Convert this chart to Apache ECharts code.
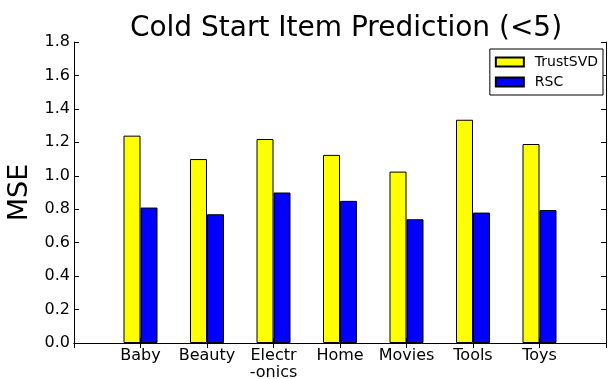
<!DOCTYPE html>
<html>
<head>
<meta charset="utf-8">
<script src="https://cdn.jsdelivr.net/npm/echarts@6/dist/echarts.min.js"></script>
<style>
  html, body { margin: 0; padding: 0; background: #fff; }
  #chart { width: 608px; height: 379px; }
</style>
</head>
<body>
<div id="chart"></div>
<script>
// Categories and MSE values for the cold-start item experiment
const categories = ['Baby', 'Beauty', 'Electr\n-onics', 'Home', 'Movies', 'Tools', 'Toys'];
const trustSVD = [1.24, 1.10, 1.22, 1.125, 1.025, 1.335, 1.19];
const rsc = [0.81, 0.77, 0.90, 0.85, 0.74, 0.78, 0.795];
const yTicks = [0.0, 0.2, 0.4, 0.6, 0.8, 1.0, 1.2, 1.4, 1.6, 1.8];

// Pad the category axis with an empty slot on each side so groups sit on integer positions 1..7 of 0..8
const axisCats = [''].concat(categories, ['']);
const pad = arr => [null].concat(arr, [null]);

const FONT = 'DejaVu Sans';
const axisLine = { show: true, lineStyle: { color: '#000', width: 1 } };
const innerTick = { show: true, inside: true, length: 5, lineStyle: { color: '#000', width: 1 } };

const chart = echarts.init(document.getElementById('chart'), null, { renderer: 'canvas' });
chart.setOption({
  animation: false,
  backgroundColor: '#fff',
  textStyle: { fontFamily: FONT },
  title: {
    text: 'Cold Start Item Prediction (<5)',
    left: 341, top: 10, textAlign: 'center',
    textStyle: { fontFamily: FONT, fontSize: 28, fontWeight: 'normal', color: '#000' }
  },
  legend: {
    right: 5, top: 49,
    orient: 'vertical',
    itemWidth: 28, itemHeight: 9, itemGap: 6,
    padding: [6, 5, 6, 5],
    borderColor: '#000', borderWidth: 1,
    backgroundColor: '#fff',
    icon: 'rect',
    textStyle: { fontFamily: FONT, fontSize: 14, color: '#000', padding: [0, 0, 0, 6] },
    data: ['TrustSVD', 'RSC']
  },
  grid: { left: 74, right: 2, top: 42, bottom: 36, containLabel: false, outerBoundsMode: 'none' },
  xAxis: [
    {
      type: 'category', data: axisCats, boundaryGap: false,
      axisLine: axisLine, axisTick: Object.assign({ alignWithLabel: true }, innerTick),
      axisLabel: { color: '#000', fontFamily: FONT, fontSize: 16, margin: 4, interval: 0, lineHeight: 17 },
      splitLine: { show: false }
    },
    {
      type: 'category', data: axisCats, boundaryGap: false, position: 'top',
      axisLine: axisLine, axisTick: innerTick, axisLabel: { show: false }, splitLine: { show: false }
    }
  ],
  yAxis: [
    {
      type: 'value', min: 0, max: 1.8, interval: 0.2,
      name: 'MSE', nameLocation: 'middle', nameGap: 37, nameRotate: 90,
      nameTextStyle: { fontFamily: FONT, fontSize: 27, color: '#000' },
      axisLine: axisLine, axisTick: innerTick,
      axisLabel: { color: '#000', fontFamily: FONT, fontSize: 16, margin: 4,
        formatter: v => v.toFixed(1) },
      splitLine: { show: false }
    },
    {
      type: 'value', min: 0, max: 1.8, interval: 0.2, position: 'right',
      axisLine: axisLine, axisTick: innerTick, axisLabel: { show: false }, splitLine: { show: false }
    }
  ],
  series: [
    {
      name: 'TrustSVD', type: 'bar', data: pad(trustSVD),
      barWidth: 17, barGap: '0%',
      itemStyle: { color: '#ffff00', borderColor: '#000', borderWidth: 1 }
    },
    {
      name: 'RSC', type: 'bar', data: pad(rsc),
      barWidth: 17, barGap: '0%',
      itemStyle: { color: '#0000ff', borderColor: '#000', borderWidth: 1 }
    }
  ]
});
</script>
</body>
</html>
